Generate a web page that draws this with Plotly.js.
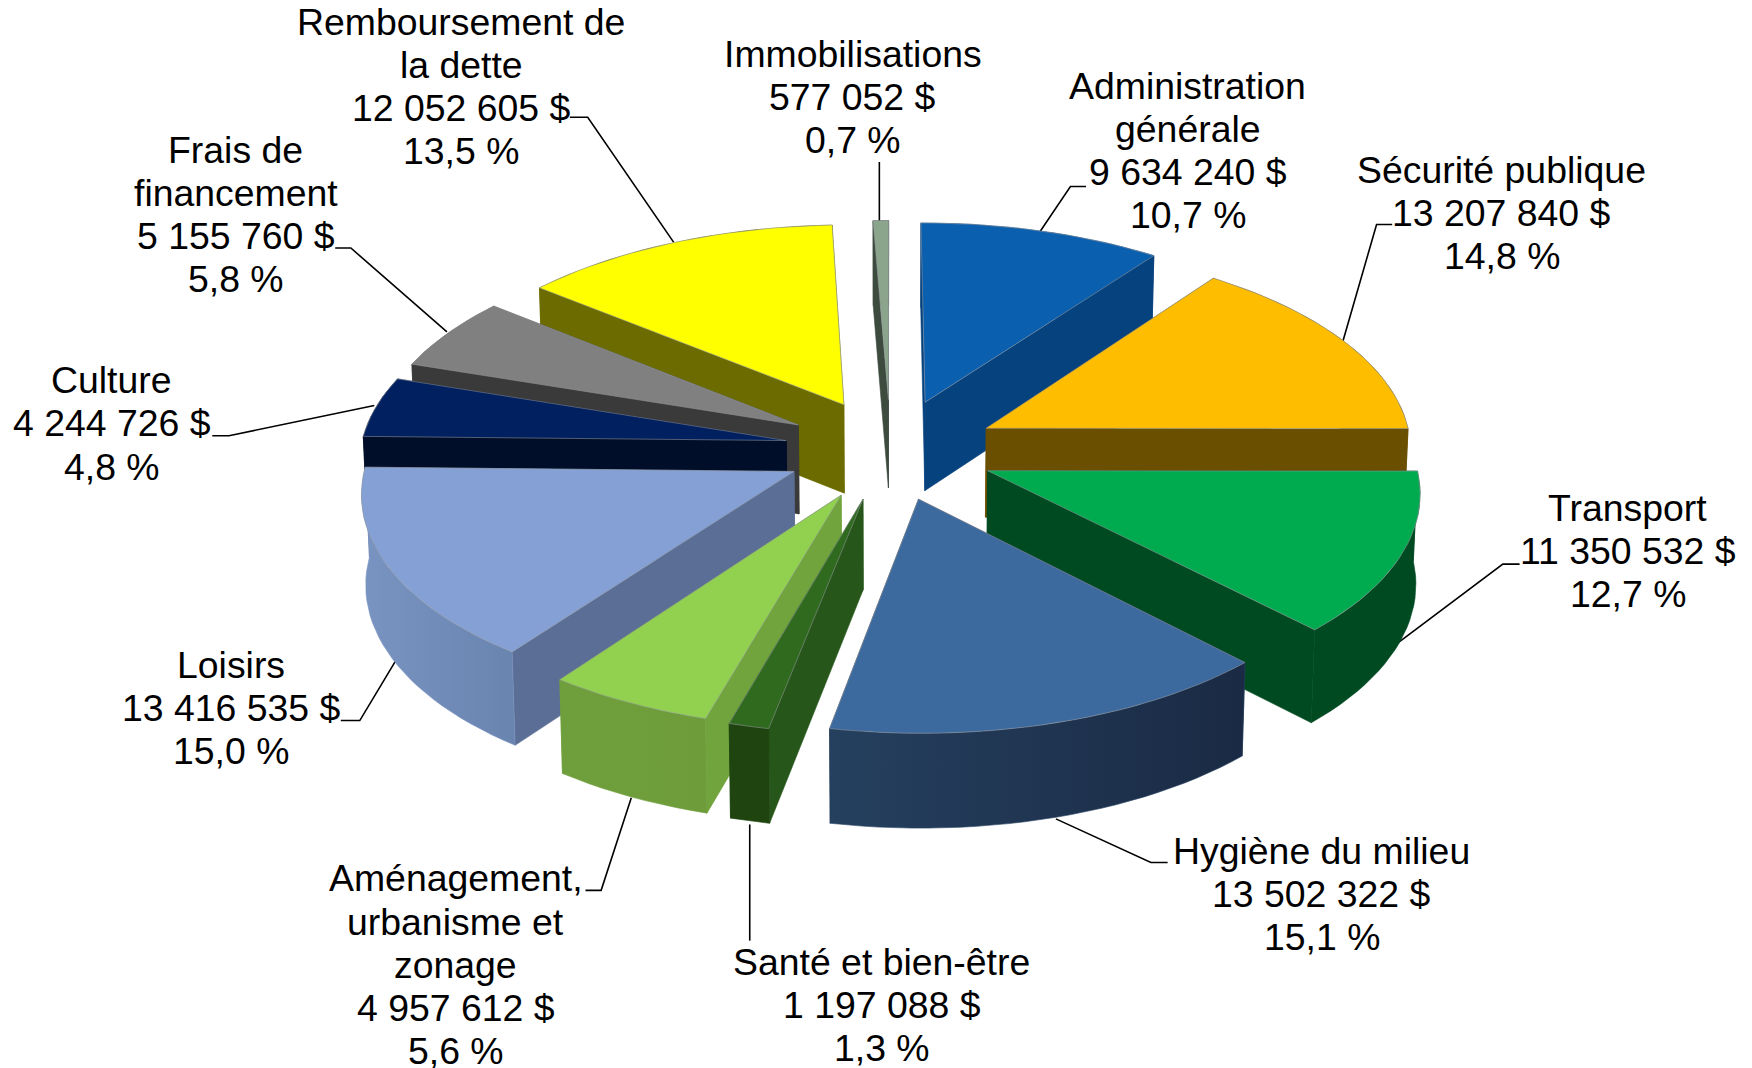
<!DOCTYPE html>
<html><head><meta charset="utf-8">
<script src="https://cdn.plot.ly/plotly-3.0.1.min.js"></script>
<style>html,body{margin:0;padding:0;background:#fff}#c{width:1752px;height:1068px}</style>
</head><body><div id="c"></div>
<script>
const categories=["Administration<br>générale","Sécurité publique","Transport","Hygiène du milieu","Santé et bien-être","Aménagement,<br>urbanisme et<br>zonage","Loisirs","Culture","Frais de<br>financement","Remboursement de<br>la dette","Immobilisations"];
const values=[9634240,13207840,11350532,13502322,1197088,4957612,13416535,4244726,5155760,12052605,577052];
const percents=["10,7","14,8","12,7","15,1","1,3","5,6","15,0","4,8","5,8","13,5","0,7"];
const topColors=["#0B5FAF","#FFBD00","#00AB50","#3D6A9E","#2F6A1E","#92D050","#84A0D4","#002060","#808080","#FFFF00","#8AA58C"];
const wallColors=["#06427E","#6B4F00","#004A22","#1C2D47","#27561A","#71A43C","#5A6E96","#000E2A","#3A3A3A","#6B6B00","#3D4A3E"];
const outerLeft=["#06427E","#6B4F00","#004A22","#25405F","#1F4410","#6F9F3C","#7A94C2","#000E2A","#3A3A3A","#6B6B00","#3D4A3E"];
const outerRight=["#06427E","#6B4F00","#004A22","#1A2A44","#1F4410","#6E9C3A","#6A84B0","#000E2A","#3A3A3A","#6B6B00","#3D4A3E"];
// label centre (x) and vertical centre (y), in the 1568x956 drawing space
const labelX=[1063,1344,1457,1183,789,408,207,100,211,413,763];
const labelY=[134.5,190.5,493.5,800.5,899.5,863.5,633.5,379,192,77.5,86.5];
const leaderX=[[972,958,931],[1246,1232,1202],[1360,1345,1249],[1045,1030,945],[671,671],[524,538,565],[305,322,355],[190,205,335],[300,314,400],[510,526,603],[787,787]];
const leaderY=[[167,167,207],[201,201,305],[505,505,577],[772,772,733],[842,738],[797,797,714],[645,645,590],[390,390,363],[222,222,297],[105,105,217],[145,198]];
// small view-rotation correction around the pie (degrees)
const warpAngle=[0,40,90,140,195,220,270,360];
const warpDelta=[-0.2,-2.5,-2,-2,-1.2,-0.8,0,0];

const W=1568,H=956,FONT=37.4,LINE=38.6;
const cx=797,cy=402,R=381,E=95,k=0.478,p=0.09,D=80,q=0.008;
const rad=d=>d*Math.PI/180;
function proj(X,Y,Z){const s=1/(1+p*Y/R);return [cx+X*s*(1-q*Z/D),cy-k*Y*s+Z*Math.sqrt(s)];}
function warp(a){
  for(let j=1;j<warpAngle.length;j++){
    if(a<=warpAngle[j]){const t=(a-warpAngle[j-1])/(warpAngle[j]-warpAngle[j-1]);return a+warpDelta[j-1]+t*(warpDelta[j]-warpDelta[j-1]);}
  }
  return a;
}
const total=values.reduce((a,b)=>a+b,0);
let acc=0;
const slices=values.map((v,i)=>{const a0=acc/total*360;acc+=v;const a1=acc/total*360;return {i,a0,a1,mid:(a0+a1)/2};});
function poly(pts){return {x:pts.map(q=>q[0]),y:pts.map(q=>q[1])};}
function face(pts,name,fill,line,grad){
  const d=poly(pts.concat([pts[0]]));
  const t={type:'scatter',mode:'lines',x:d.x,y:d.y,fill:'toself',name:name.replace(/<br>/g,' '),hoverinfo:'name',
    fillcolor:fill,line:line||{width:0.6,color:fill},showlegend:false};
  if(grad)t.fillgradient={type:'horizontal',colorscale:[[0,grad[0]],[1,grad[1]]]};
  return t;
}
const traces=[];
slices.slice().sort((a,b)=>Math.cos(rad(b.mid))-Math.cos(rad(a.mid))).forEach(sl=>{
  const i=sl.i,ox=E*Math.sin(rad(sl.mid)),oy=E*Math.cos(rad(sl.mid));
  const pt=(a,r,z)=>{const w=warp(a);return proj(ox+r*Math.sin(rad(w)),oy+r*Math.cos(rad(w)),z);};
  const n=Math.max(2,Math.ceil((sl.a1-sl.a0)/2));
  const arc=[];for(let j=0;j<=n;j++)arc.push(sl.a0+(sl.a1-sl.a0)*j/n);
  const wall=a=>[pt(a,0,0),pt(a,R,0),pt(a,R,D),pt(a,0,D)];
  const outer=arc.map(a=>pt(a,R,0)).concat(arc.slice().reverse().map(a=>pt(a,R,D)));
  const parts=[
    {y:oy+R*0.5*Math.cos(rad(sl.a0)),t:face(wall(sl.a0),categories[i],wallColors[i])},
    {y:oy+R*0.5*Math.cos(rad(sl.a1)),t:face(wall(sl.a1),categories[i],wallColors[i])},
    {y:oy+R*Math.cos(rad(sl.mid)),t:face(outer,categories[i],outerLeft[i],null,[outerLeft[i],outerRight[i]])}
  ].sort((a,b)=>b.y-a.y);
  parts.forEach(q=>traces.push(q.t));
  const top=[pt(0,0,0)].concat(arc.map(a=>pt(a,R,0)));
  traces.push(face(top,categories[i],topColors[i],{width:1,color:'rgba(150,155,160,0.55)'}));
});
const fmt=v=>String(v).replace(/\B(?=(\d{3})+$)/g,' ');
const annotations=[];
categories.forEach((c,i)=>{
  const lines=c.split('<br>').concat([fmt(values[i])+' $',percents[i]+' %']);
  lines.forEach((t,j)=>annotations.push({xref:'x',yref:'y',x:labelX[i],y:labelY[i]+(j-(lines.length-1)/2)*LINE,
    xanchor:'center',yanchor:'middle',align:'center',showarrow:false,text:t,
    font:{family:'Liberation Sans, Arial, sans-serif',size:FONT,color:'#000'}}));
});
const shapes=leaderX.map((xs,i)=>({type:'path',xref:'x',yref:'y',layer:'below',
  path:xs.map((x,j)=>(j?'L':'M')+x+' '+leaderY[i][j]).join(' '),line:{color:'#000',width:1.6}}));
const layout={width:1752,height:1068,margin:{l:0,r:0,t:0,b:0},paper_bgcolor:'#fff',plot_bgcolor:'#fff',showlegend:false,
  xaxis:{range:[0,W],visible:false,fixedrange:true},yaxis:{range:[H,0],visible:false,fixedrange:true},annotations,shapes};
Plotly.newPlot('c',traces,layout,{displayModeBar:false,responsive:false});
</script></body></html>
